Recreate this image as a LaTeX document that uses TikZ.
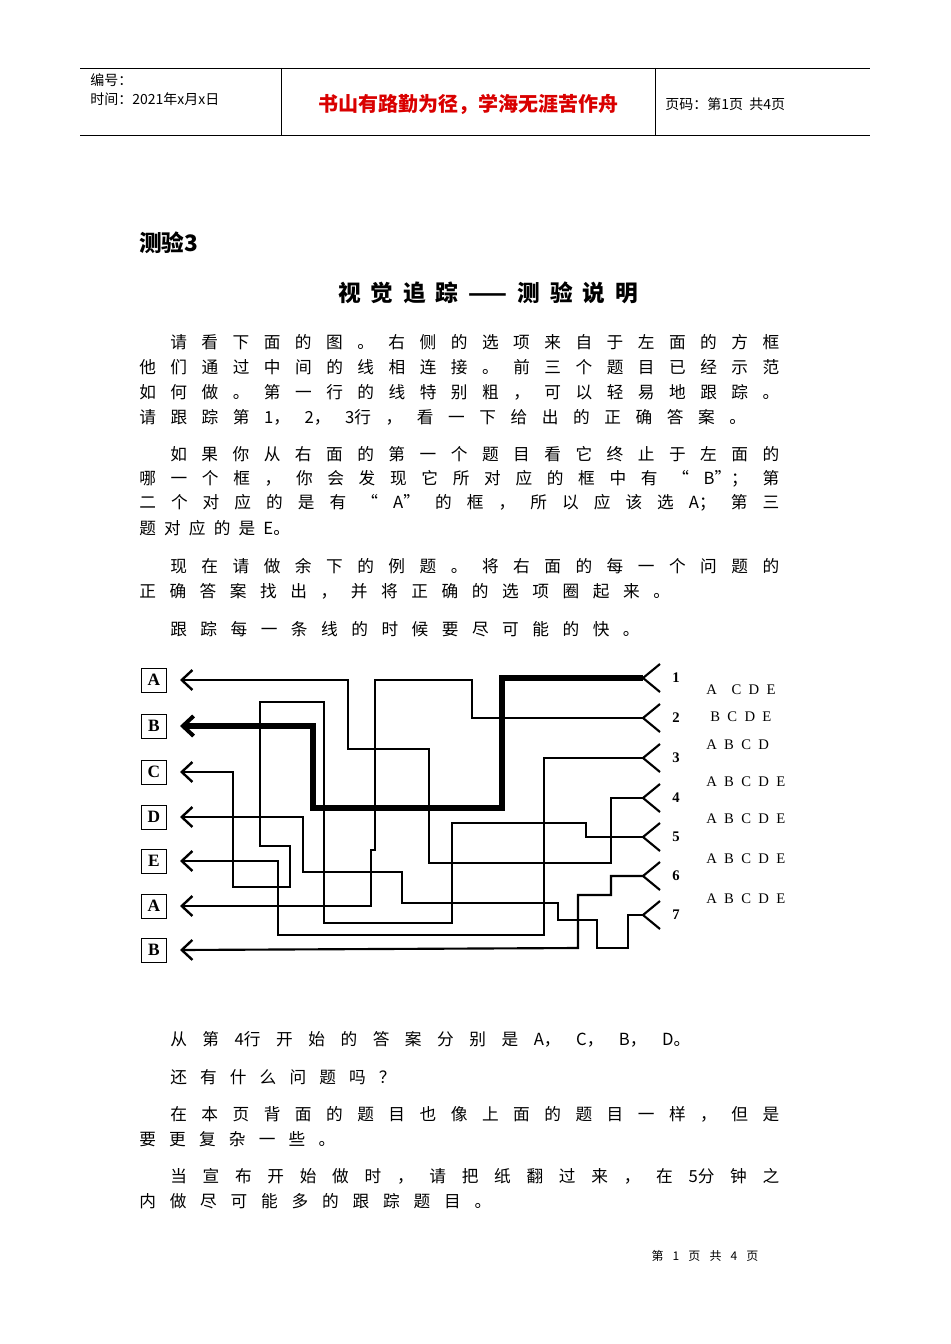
\documentclass[tikz,border=0pt]{standalone}
\usepackage{fontspec}
\setmainfont{Noto Sans CJK SC}
\newfontfamily\serif{Liberation Serif}
\usetikzlibrary{arrows.meta}
\begin{document}
\begin{tikzpicture}[x=0.75pt,y=-0.75pt,
  txt/.style={anchor=west,inner sep=0pt,font=\fontsize{12.5}{14}\selectfont},
  wire/.style={line width=1.6pt,line join=miter},
  thickwire/.style={line width=4pt,line join=miter},
  arr/.style={-{Straight Barb[length=8pt,width=15pt,line width=1.8pt]}},
  tarr/.style={-{Straight Barb[length=8pt 0,width=15pt 0,line width=3pt]}},
  lbl/.style={draw,line width=0.7pt,minimum width=19pt,minimum height=18pt,inner sep=0pt,font=\serif\bfseries\fontsize{13}{14}\selectfont},
  num/.style={font=\serif\bfseries\fontsize{11}{12}\selectfont,inner sep=0pt},
  opt/.style={anchor=west,inner sep=0pt,font=\serif\fontsize{11}{12}\selectfont}]
\path[use as bounding box] (0,0) rectangle (950,1344);
% header
\draw[line width=0.6pt] (80,68) -- (870,68) (80,135) -- (870,135) (281,68) -- (281,135) (655,68) -- (655,135);
\node[txt,font=\fontsize{10.5}{12}\selectfont] (h1) at (90,80) {编号：};
\node[txt,font=\fontsize{10.5}{12}\selectfont] (h2) at (90,99) {时间：2021年x月x日};
\node[inner sep=0pt,text=red!85!black,font=\bfseries\fontsize{15}{17}\selectfont] (h3) at (468,104) {书山有路勤为径，学海无涯苦作舟};
\node[txt,font=\fontsize{10.5}{12}\selectfont] (h4) at (665,104) {页码：第1页\ \ 共4页};
% titles
\node[txt,font=\bfseries\fontsize{17}{19}\selectfont] (t1) at (139,243) {测验3};
\node[inner sep=0pt,font=\bfseries\fontsize{17}{19}\selectfont] (t2) at (488,293) {\makebox[225pt][s]{视 觉 追 踪 —— 测 验 说 明}};
% paragraphs
\node[txt] (a1) at (170,342) {\makebox[456.75pt][s]{请 看 下 面 的 图 。 右 侧 的 选 项 来 自 于 左 面 的 方 框}};
\node[txt] (a2) at (139,367) {\makebox[480pt][s]{他 们 通 过 中 间 的 线 相 连 接 。 前 三 个 题 目 已 经 示 范}};
\node[txt] (a3) at (139,392) {\makebox[480pt][s]{如 何 做 。 第 一 行 的 线 特 别 粗 ， 可 以 轻 易 地 跟 踪 。}};
\node[txt] (a4) at (139,417) {\makebox[455pt][s]{请 跟 踪 第 1， 2， 3行 ， 看 一 下 给 出 的 正 确 答 案 。}};
\node[txt] (b1) at (170,454) {\makebox[456.75pt][s]{如 果 你 从 右 面 的 第 一 个 题 目 看 它 终 止 于 左 面 的}};
\node[txt] (b2) at (139,479) {\makebox[480pt][s]{哪 一 个 框 ， 你 会 发 现 它 所 对 应 的 框 中 有 “ B”； 第}};
\node[txt] (b3) at (139,503) {\makebox[480pt][s]{二 个 对 应 的 是 有 “ A” 的 框 ， 所 以 应 该 选 A； 第 三}};
\node[txt] (b4) at (139,528) {\makebox[113pt][s]{题 对 应 的 是 E。}};
\node[txt] (c1) at (170,566) {\makebox[456.75pt][s]{现 在 请 做 余 下 的 例 题 。 将 右 面 的 每 一 个 问 题 的}};
\node[txt] (c2) at (139,591) {\makebox[398pt][s]{正 确 答 案 找 出 ， 并 将 正 确 的 选 项 圈 起 来 。}};
\node[txt] (c3) at (170,629) {\makebox[352pt][s]{跟 踪 每 一 条 线 的 时 候 要 尽 可 能 的 快 。}};
\node[txt] (d1) at (170,1039) {\makebox[390pt][s]{从 第 4行 开 始 的 答 案 分 别 是 A， C， B， D。}};
\node[txt] (d2) at (170,1077) {\makebox[169pt][s]{还 有 什 么 问 题 吗 ？}};
\node[txt] (d3) at (170,1114) {\makebox[456.75pt][s]{在 本 页 背 面 的 题 目 也 像 上 面 的 题 目 一 样 ， 但 是}};
\node[txt] (d4) at (139,1139) {\makebox[147pt][s]{要 更 复 杂 一 些 。}};
\node[txt] (d5) at (170,1176) {\makebox[456.75pt][s]{当 宣 布 开 始 做 时 ， 请 把 纸 翻 过 来 ， 在 5分 钟 之}};
\node[txt] (d6) at (139,1201) {\makebox[264pt][s]{内 做 尽 可 能 多 的 跟 踪 题 目 。}};
\node[inner sep=0pt,font=\fontsize{9}{10}\selectfont] (ft) at (705,1256) {\makebox[80pt][s]{第 1 页 共 4 页}};
% left boxes and arrow tip points
\foreach \n/\t/\y in {LA/A/680,LB/B/726,LC/C/772,LD/D/817,LE/E/861,LA2/A/906,LB2/B/950}{
  \node[lbl] (\n) at (154,\y) {\t};
  \coordinate (T\n) at (180,\y);
}
% right forks and numbers
\foreach \i/\y in {1/678,2/718,3/758,4/798,5/837,6/876,7/915}{
  \coordinate (R\i) at (643,\y);
  \draw[wire] (660,\y-14) -- (R\i) -- (660,\y+14);
  \node[num] (N\i) at (676,\y) {\i};
}
% options
\node[opt] (o1) at (706,690) {A\ \ \ \ C\ \ D\ \ E};
\node[opt] (o2) at (710,717) {B\ \ C\ \ D\ \ E};
\node[opt] (o3) at (706,745) {A\ \ B\ \ C\ \ D};
\node[opt] (o4) at (706,782) {A\ \ B\ \ C\ \ D\ \ E};
\node[opt] (o5) at (706,819) {A\ \ B\ \ C\ \ D\ \ E};
\node[opt] (o6) at (706,859) {A\ \ B\ \ C\ \ D\ \ E};
\node[opt] (o7) at (706,899) {A\ \ B\ \ C\ \ D\ \ E};
% wires
\draw[thickwire,tarr] (R1) -- (502,678) -- (502,808) -- (313,808) -- (313,726) -- (TLB);
\draw[wire,arr] (R2) -- (472,718) -- (472,680) -- (375,680) -- (375,850) -- (371,850) -- (371,906) -- (TLA2);
\draw[wire,arr] (R3) -- (544,758) -- (544,935) -- (278,935) -- (278,861) -- (TLE);
\draw[wire,arr] (R4) -- (611,798) -- (611,863) -- (429,863) -- (429,749) -- (348,749) -- (348,680) -- (TLA);
\draw[wire,arr] (R5) -- (586,837) -- (586,823) -- (452,823) -- (452,923) -- (324,923) -- (324,702) -- (260,702) -- (260,846) -- (290,846) -- (290,887) -- (233,887) -- (233,772) -- (TLC);
\draw[wire,arr] (R6) -- (611,876) -- (611,895) -- (578,895) -- (578,948) -- (TLB2);
\draw[wire,arr] (R7) -- (628,915) -- (628,948) -- (597,948) -- (597,920) -- (558,920) -- (558,903) -- (402,903) -- (402,872) -- (303,872) -- (303,817) -- (TLD);
\end{tikzpicture}
\end{document}
